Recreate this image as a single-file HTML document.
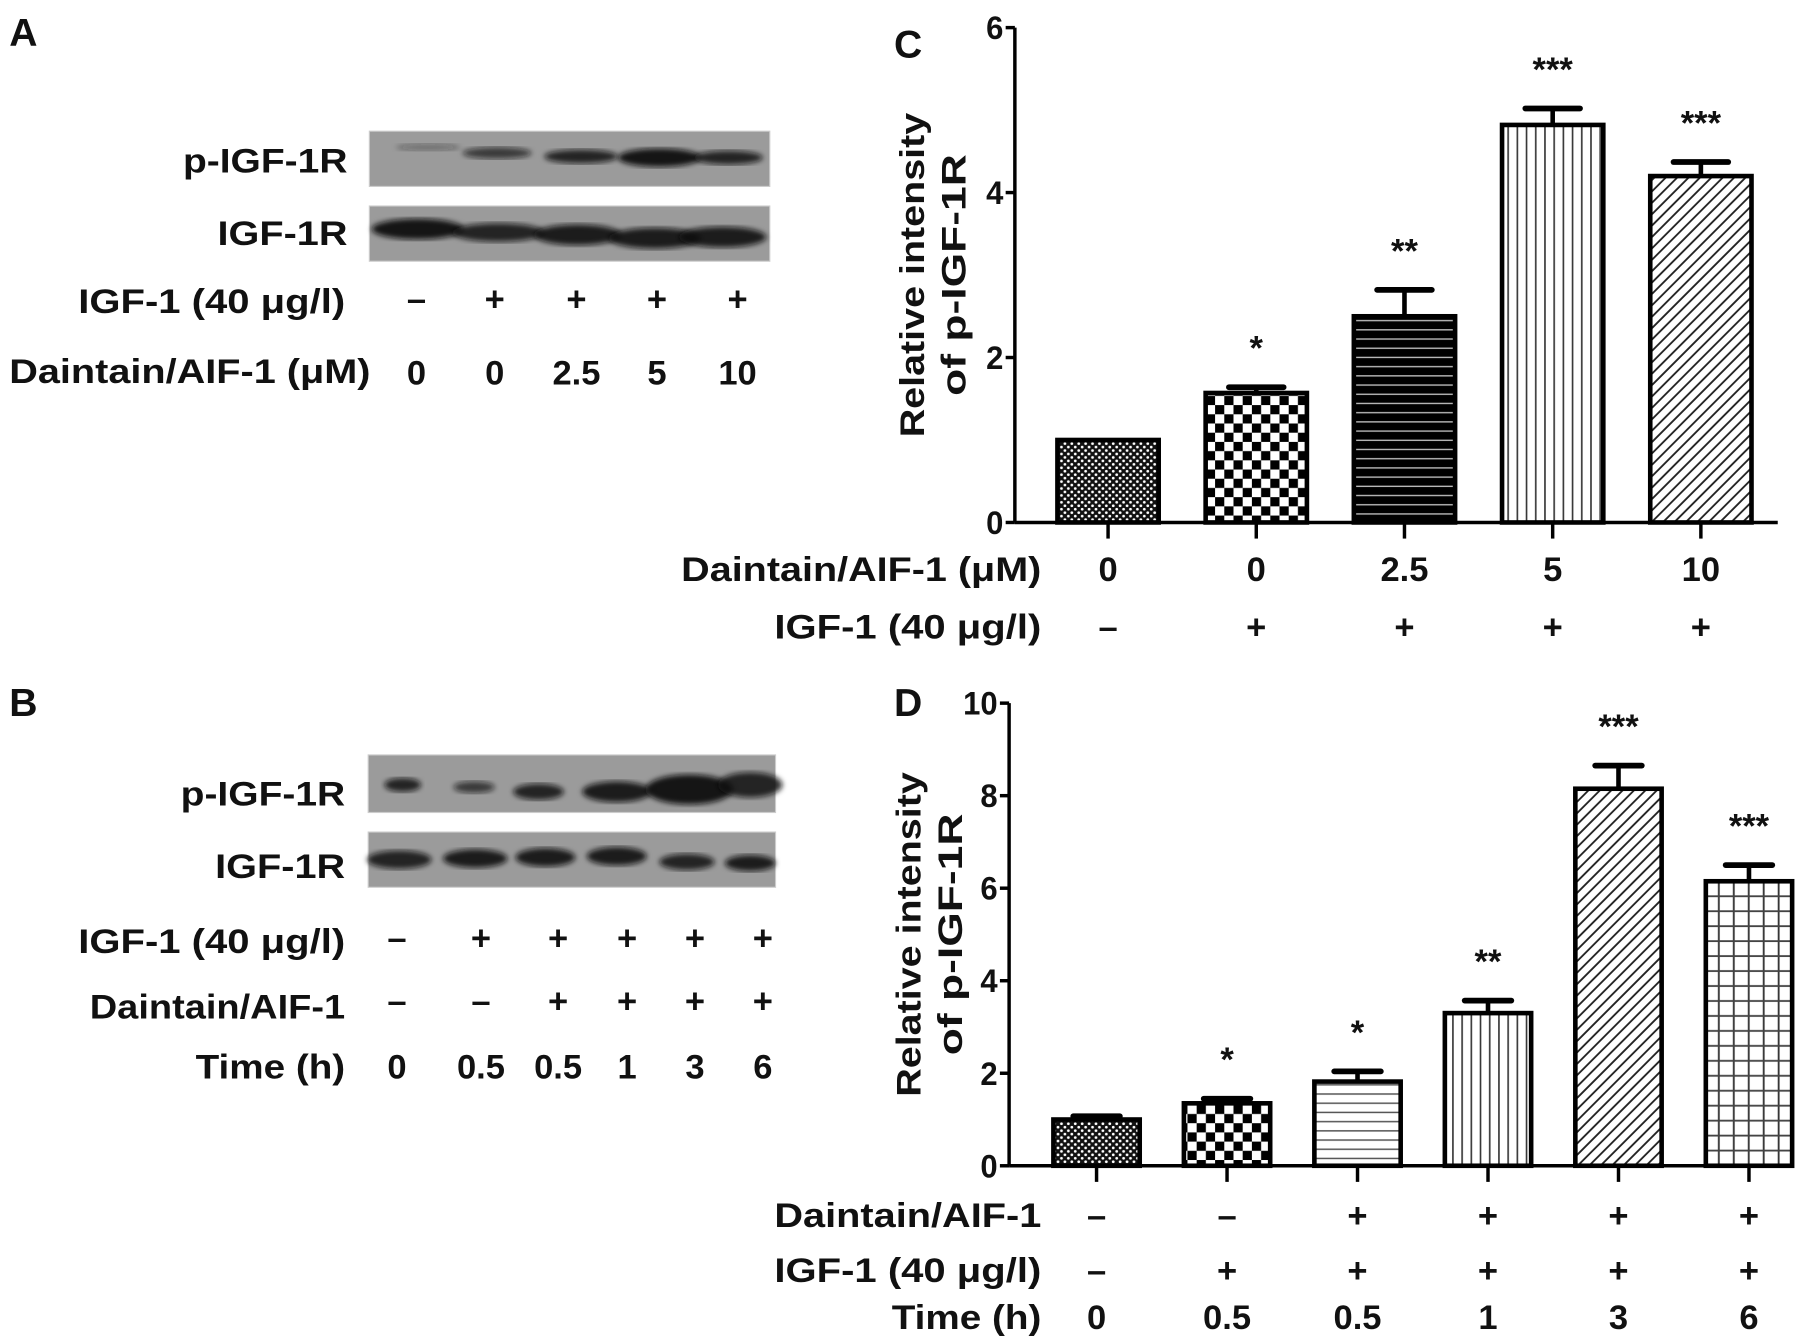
<!DOCTYPE html>
<html><head><meta charset="utf-8"><style>html,body{margin:0;padding:0;background:#fff}svg{display:block}text{font-family:"Liberation Sans",Arial,sans-serif;font-weight:bold;fill:#111}</style></head>
<body>
<svg id="fig" xmlns="http://www.w3.org/2000/svg" width="1795" height="1343" viewBox="0 0 1560 1167" preserveAspectRatio="none">
<defs>
<pattern id="pFine" width="6" height="6" patternUnits="userSpaceOnUse"><rect width="6" height="6" fill="#111"/><circle cx="1.5" cy="1.5" r="1.2" fill="#fff"/><circle cx="4.5" cy="4.5" r="1.2" fill="#fff"/></pattern>
<pattern id="pCheck" width="16" height="16" patternUnits="userSpaceOnUse"><rect width="16" height="16" fill="#fff"/><rect width="8" height="8" fill="#000"/><rect x="8" y="8" width="8" height="8" fill="#000"/></pattern>
<pattern id="pBlackH" width="8" height="8" patternUnits="userSpaceOnUse"><rect width="8" height="8" fill="#000"/><rect y="6" width="8" height="1.2" fill="#bbb"/></pattern>
<pattern id="pHoriz" width="8" height="8" patternUnits="userSpaceOnUse"><rect width="8" height="8" fill="#fff"/><rect y="6" width="8" height="1.3" fill="#555"/></pattern>
<pattern id="pVert" width="8" height="8" patternUnits="userSpaceOnUse"><rect width="8" height="8" fill="#fff"/><rect x="6" width="1.4" height="8" fill="#333"/></pattern>
<pattern id="pDiag" width="7" height="7" patternUnits="userSpaceOnUse" patternTransform="rotate(45)"><rect width="7" height="7" fill="#fff"/><rect x="5" width="1.6" height="7" fill="#222"/></pattern>
<pattern id="pGrid" width="13" height="13" patternUnits="userSpaceOnUse"><rect width="13" height="13" fill="#fff"/><rect x="11" width="1.6" height="13" fill="#333"/><rect y="11" width="13" height="1.6" fill="#444"/></pattern>
<filter id="blur"><feGaussianBlur stdDeviation="2.2"/></filter>
</defs>
<g id="root"></g>
</svg>
<script>
// Chart C data
const catC = ["0","0","2.5","5","10"];
const igfC = ["–","+","+","+","+"];
const valC = [1.0, 1.57, 2.5, 4.82, 4.2];
const errC = [0.0, 0.07, 0.32, 0.2, 0.17];
const sigC = ["","*","**","***","***"];
const ticksC = [0,2,4,6];
// Chart D data
const daiD = ["–","–","+","+","+","+"];
const igfD = ["–","+","+","+","+","+"];
const timeD = ["0","0.5","0.5","1","3","6"];
const valD = [1.0, 1.35, 1.82, 3.3, 8.15, 6.15];
const errD = [0.07, 0.1, 0.22, 0.27, 0.5, 0.35];
const sigD = ["","*","*","**","***","***"];
const ticksD = [0,2,4,6,8,10];

const NS="http://www.w3.org/2000/svg";
const root=document.getElementById('root');
function mk(tag,attrs,parent){const e=document.createElementNS(NS,tag);for(const k in attrs)e.setAttribute(k,attrs[k]);(parent||root).appendChild(e);return e;}
function txt(x,y,s,anchor,size,len,name){const e=mk('text',{x:x,y:y,'text-anchor':anchor||'middle','font-size':size||28});if(len){e.setAttribute('textLength',len);e.setAttribute('lengthAdjust','spacingAndGlyphs');}e.textContent=s;


return e;}

// panel letters
txt(8,40,"A","start",34,null,"panel-label-a");
txt(8,622,"B","start",34,null,"panel-label-b");
txt(777,50,"C","start",34,null,"panel-label-c");
txt(777,622,"D","start",34,null,"panel-label-d");

// Blots
function blot(x,y,w,h,bands,name){const g=mk('g',{});


mk('rect',{x:x,y:y,width:w,height:h,fill:'#9b9b9b',stroke:'#ccc','stroke-width':1},g);
bands.forEach(b=>{const el=mk('ellipse',{cx:b[0],cy:b[1],rx:b[2],ry:b[3],fill:'#111','fill-opacity':b[4],filter:'url(#blur)'},g);

});}
blot(321,114,348,48,[[372,128,28,3,0.35],[432,133,30,5,0.7],[505,136,32,6,0.85],[573,137,36,8,0.95],[633,137,30,6,0.85]],"blot-a-p-igf1r");
blot(321,179,348,48,[[363,199,40,9,0.95],[433,202,40,8,0.85],[502,204,38,9,0.9],[569,207,40,9,0.9],[628,206,38,9,0.9]],"blot-a-igf1r");
blot(320,656,354,50,[[350,682,16,6,0.85],[412,684,18,5,0.7],[468,688,22,7,0.85],[536,688,30,9,0.9],[599,686,38,13,0.95],[652,682,28,11,0.85]],"blot-b-p-igf1r");
blot(320,723,354,48,[[347,747,28,8,0.85],[413,746,28,8,0.9],[474,745,26,8,0.9],[536,744,26,8,0.9],[597,749,24,7,0.85],[652,750,22,7,0.9]],"blot-b-igf1r");

// A labels
txt(302,150,"p-IGF-1R","end",30,143,"row-label-a-p-igf1r");
txt(302,213,"IGF-1R","end",30,113,"row-label-a-igf1r");
txt(300,272,"IGF-1 (40 μg/l)","end",30,232,"row-label-a-igf1");
txt(322,333,"Daintain/AIF-1 (μM)","end",30,314,"row-label-a-daintain");
const colA=[362,430,501,571,641];
colA.forEach((x,i)=>{txt(x,270,igfC[i],"middle",30,null,"a-igf1-value");txt(x,334,catC[i],"middle",30,null,"a-daintain-value");});
// B labels
txt(300,700,"p-IGF-1R","end",30,143,"row-label-b-p-igf1r");
txt(300,763,"IGF-1R","end",30,113,"row-label-b-igf1r");
txt(300,828,"IGF-1 (40 μg/l)","end",30,232,"row-label-b-igf1");
txt(300,885,"Daintain/AIF-1","end",30,222,"row-label-b-daintain");
txt(300,937,"Time (h)","end",30,130,"row-label-b-time");
const colB=[345,418,485,545,604,663];
colB.forEach((x,i)=>{txt(x,825,igfD[i],"middle",30,null,"b-igf1-value");txt(x,880,daiD[i],"middle",30,null,"b-daintain-value");txt(x,937,timeD[i],"middle",30,null,"b-time-value");});

// Bar chart drawer
function chart(opt){
 const g=mk('g',{});
 
 
 const ymax=opt.ticks[opt.ticks.length-1];
 const Y=v=>opt.y0-(v/ymax)*(opt.y0-opt.yTop);
 const n=opt.vals.length;
 const X=i=>opt.xFirst+i*opt.step;
 const ax=mk('line',{x1:opt.ax,y1:opt.yTop,x2:opt.ax,y2:opt.y0,stroke:'#000','stroke-width':3},g);
 
 
 const bx=mk('line',{x1:opt.ax,y1:opt.y0,x2:opt.xEnd,y2:opt.y0,stroke:'#000','stroke-width':3},g);
 
 
 opt.ticks.forEach(t=>{const y=Y(t);mk('line',{x1:opt.ax-8,y1:y,x2:opt.ax,y2:y,stroke:'#000','stroke-width':3},g);
  const tl=txt(opt.ax-10,y+10,String(t),"end",28,null,"y-tick-label");tl.setAttribute('textLength',String(t).length*15);tl.setAttribute('lengthAdjust','spacingAndGlyphs');});
 const t1=mk('text',{transform:`translate(${opt.titleX},${(opt.yTop+opt.y0)/2}) rotate(-90)`,'text-anchor':'middle','font-size':30,textLength:opt.titleLen,lengthAdjust:'spacingAndGlyphs'},g);
 t1.textContent="Relative intensity";
 
 
 const t2=mk('text',{transform:`translate(${opt.titleX+36},${(opt.yTop+opt.y0)/2}) rotate(-90)`,'text-anchor':'middle','font-size':30,textLength:opt.titleLen2,lengthAdjust:'spacingAndGlyphs'},g);
 t2.textContent="of p-IGF-1R";
 
 
 for(let i=0;i<n;i++){
  const x=X(i),v=opt.vals[i],e=opt.errs[i],w=opt.bw;
  mk('line',{x1:x,y1:opt.y0,x2:x,y2:opt.y0+14,stroke:'#000','stroke-width':3},g);
  if(e>0){const el=mk('line',{x1:x,y1:Y(v),x2:x,y2:Y(v+e),stroke:'#000','stroke-width':4},g);
   
   
   const cap=mk('line',{x1:x-w*0.27,y1:Y(v+e),x2:x+w*0.27,y2:Y(v+e),stroke:'#000','stroke-width':5,'stroke-linecap':'round'},g);
   
   }
  const r=mk('rect',{x:x-w/2,y:Y(v),width:w,height:opt.y0-Y(v),fill:`url(#${opt.pats[i]})`,stroke:'#000','stroke-width':4},g);
  
  
  if(opt.sig[i]){txt(x,Y(v+e)-24,opt.sig[i],"middle",30,null,"significance-marker");}
 }
 opt.rows.forEach(row=>{txt(opt.rowLabelX,row.y,row.label,"end",30,row.len,"x-row-label");
  row.vals.forEach((s,i)=>txt(X(i),row.y,s,"middle",30,null,"x-row-value"));});
}
chart({name:'chart-c',vals:valC,errs:errC,sig:sigC,ticks:ticksC,ax:882,yTop:24,y0:454,xEnd:1545,xFirst:963,step:128.8,bw:88,titleX:803,titleLen:282,titleLen2:210,
 pats:['pFine','pCheck','pBlackH','pVert','pDiag'],rowLabelX:905,
 rows:[{y:505,label:"Daintain/AIF-1 (μM)",len:313,vals:catC},{y:555,label:"IGF-1 (40 μg/l)",len:232,vals:igfC}]});
chart({name:'chart-d',vals:valD,errs:errD,sig:sigD,ticks:ticksD,ax:877,yTop:611,y0:1013,xEnd:1545,xFirst:953,step:113.4,bw:75,titleX:800,titleLen:282,titleLen2:210,
 pats:['pFine','pCheck','pHoriz','pVert','pDiag','pGrid'],rowLabelX:905,
 rows:[{y:1066,label:"Daintain/AIF-1",len:232,vals:daiD},{y:1114,label:"IGF-1 (40 μg/l)",len:232,vals:igfD},{y:1155,label:"Time (h)",len:130,vals:timeD}]});
</script>
</body></html>
